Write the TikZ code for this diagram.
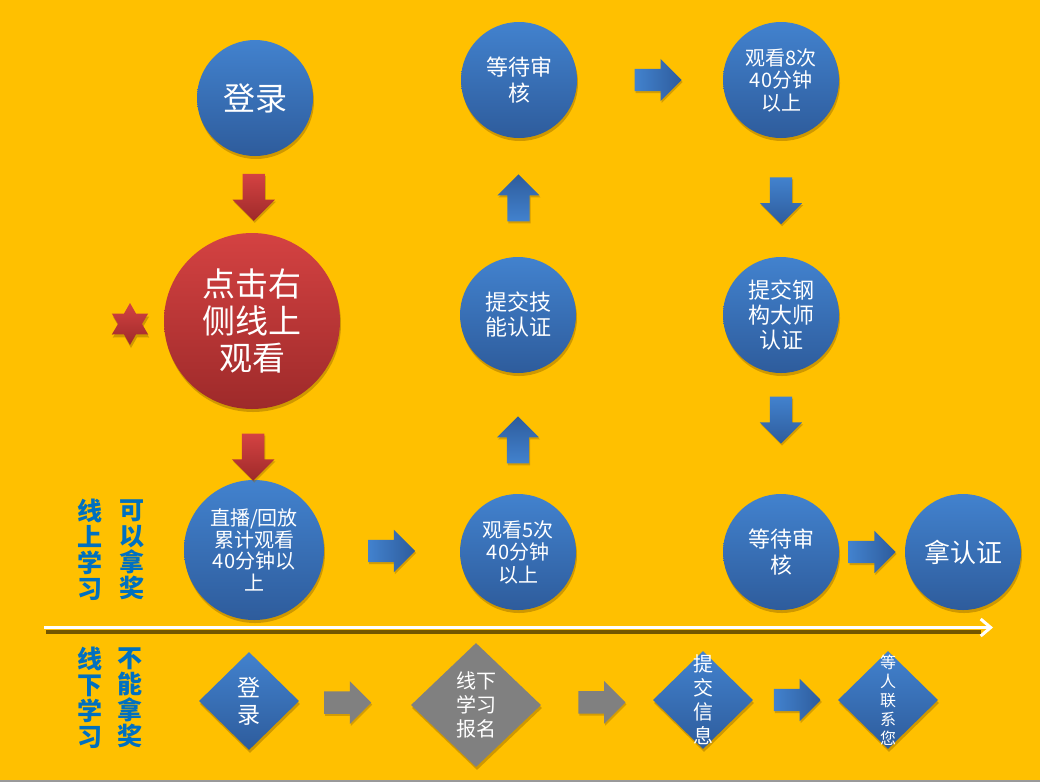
\documentclass[tikz,border=0pt]{standalone}
\usepackage{fontspec}
\setmainfont{Noto Sans CJK SC}
\newfontfamily\cjk{Noto Sans CJK SC}
\usetikzlibrary{shapes.geometric,shapes.arrows,shadows,calc,arrows.meta}
\definecolor{bg}{RGB}{255,192,0}
\definecolor{blueT}{RGB}{66,130,206}
\definecolor{blueB}{RGB}{46,92,156}
\definecolor{redT}{RGB}{212,66,66}
\definecolor{redB}{RGB}{158,42,42}
\definecolor{labelblue}{RGB}{0,112,192}
\definecolor{flatgray}{RGB}{128,128,128}
\definecolor{shade}{RGB}{150,105,0}
\begin{document}
\begin{tikzpicture}[x=1pt,y=-1pt,
  softshadow/.style={drop shadow={shadow xshift=1pt,shadow yshift=-3pt,opacity=0.45,fill=shade}},
  bcircle/.style={circle,minimum size=116pt,inner sep=0pt,top color=blueT,bottom color=blueB,
    text=white,align=center,softshadow},
  rcircle/.style={circle,minimum size=176pt,inner sep=0pt,top color=redT,bottom color=redB,
    text=white,align=center,softshadow},
  blockarrow/.style={single arrow,single arrow head extend=10pt,single arrow head indent=0pt,
    minimum height=47pt,minimum width=42pt,
    drop shadow={shadow xshift=1pt,shadow yshift=-2pt,opacity=0.4,fill=shade}},
  harrow/.style={blockarrow,inner xsep=0pt,inner ysep=11pt},
  varrow/.style={blockarrow,inner xsep=11pt,inner ysep=0pt},
  arrowright/.style={harrow,left color=blueT,right color=blueB},
  arrowdown/.style={varrow,shape border rotate=270,top color=blueT,bottom color=blueB},
  arrowup/.style={varrow,shape border rotate=90,top color=blueB,bottom color=blueT},
  reddown/.style={varrow,shape border rotate=270,top color=redT,bottom color=redB},
  grayright/.style={harrow,fill=flatgray},
  bdiamond/.style={diamond,minimum width=100pt,minimum height=98pt,inner sep=0pt,
    top color=blueT,bottom color=blueB,softshadow},
  gdiamond/.style={diamond,minimum width=130pt,minimum height=124pt,inner sep=0pt,
    fill=flatgray,softshadow},
  dtext/.style={text=white,align=center,inner sep=0pt},
  sidelabel/.style={text=labelblue,align=center,inner sep=0pt,
    font=\cjk\bfseries\fontsize{25}{26}\selectfont}
]
% canvas
\useasboundingbox[fill=bg] (0,0) rectangle (1040,782);
\draw[gray!80,line width=2pt] (0,781) -- (1040,781);

% online route: circles
\node[bcircle,font=\fontsize{32}{36}\selectfont] (login) at (255,98) {登录};
\node[rcircle,font=\fontsize{33}{37}\selectfont] (click) at (252,321) {点击右\\侧线上\\观看};
\node[bcircle,minimum size=140pt,font=\fontsize{20}{21.5}\selectfont] (zhibo) at (254,550)
  {直播/回放\\累计观看\\40分钟以\\上};
\node[bcircle,font=\fontsize{20}{22.5}\selectfont] (w5) at (518,552) {观看5次\\40分钟\\以上};
\node[bcircle,font=\fontsize{22}{25}\selectfont] (skill) at (518,315) {提交技\\能认证};
\node[bcircle,font=\fontsize{22}{26}\selectfont] (wait1) at (519,80) {等待审\\核};
\node[bcircle,font=\fontsize{20}{22.5}\selectfont] (w8) at (781,80) {观看8次\\40分钟\\以上};
\node[bcircle,font=\fontsize{22}{25}\selectfont] (steel) at (781,315) {提交钢\\构大师\\认证};
\node[bcircle,font=\fontsize{22}{26}\selectfont] (wait2) at (781,552) {等待审\\核};
\node[bcircle,font=\fontsize{26}{30}\selectfont] (cert) at (963,552) {拿认证};

% marker beside the red step
\node[star,star points=6,star point ratio=1.75,minimum size=42pt,inner sep=0pt,
  top color=redT,bottom color=redB,softshadow] (mark) at (130,324) {};

% online route: block arrows
\node[reddown] (a1) at ($(login)!0.42!(click)$) {};
\node[reddown] (a2) at ($(click)!0.57!(zhibo)$) {};
\node[arrowright] (a3) at ($(zhibo)!0.50!(w5)$) {};
\node[arrowup] (a4) at ($(w5)!0.45!(skill)$) {};
\node[arrowup] (a5) at ($(skill)!0.475!(wait1)$) {};
\node[arrowright] (a6) at ($(wait1)!0.51!(w8)$) {};
\node[arrowdown] (a7) at ($(w8)!0.49!(steel)$) {};
\node[arrowdown] (a8) at ($(steel)!0.42!(wait2)$) {};
\node[arrowright] (a9) at ($(wait2)!0.47!(cert)$) {};

% divider between online and offline
\coordinate (lineA) at (44,627.5);
\coordinate (lineB) at (993,627.5);
\draw[shade,opacity=0.55,line width=4pt] ($(lineA)+(2,4)$) -- ($(lineB)+(-12,4)$);
\draw[white,line width=3pt,-{Straight Barb[length=10pt,width=17pt]}] (lineA) -- (lineB);

% side labels
\node[sidelabel] (on1) at (90,550) {线\\上\\学\\习};
\node[sidelabel] (on2) at (132,550) {可\\以\\拿\\奖};
\node[sidelabel] (off1) at (90,698) {线\\下\\学\\习};
\node[sidelabel] (off2) at (130,698) {不\\能\\拿\\奖};

% offline route: diamonds
\node[bdiamond] (d1) at (249,701) {};
\node[dtext,font=\fontsize{23}{27}\selectfont] (d1t) at (d1) {登\\录};
\node[gdiamond] (d2) at (476,705) {};
\node[dtext,font=\fontsize{20}{24}\selectfont] (d2t) at (d2) {线下\\学习\\报名};
\node[bdiamond] (d3) at (703,700) {};
\node[dtext,font=\fontsize{20}{24}\selectfont] (d3t) at (d3) {提\\交\\信\\息};
\node[bdiamond] (d4) at (888,700) {};
\node[dtext,font=\fontsize{16}{19}\selectfont] (d4t) at (d4) {等\\人\\联\\系\\您};

% offline route: block arrows
\node[grayright] (b1) at ($(d1)!0.41!(d2)$) {};
\node[grayright] (b2) at ($(d2)!0.53!(d3)$) {};
\node[arrowright] (b3) at ($(d3)!0.48!(d4)$) {};
\end{tikzpicture}
\end{document}
